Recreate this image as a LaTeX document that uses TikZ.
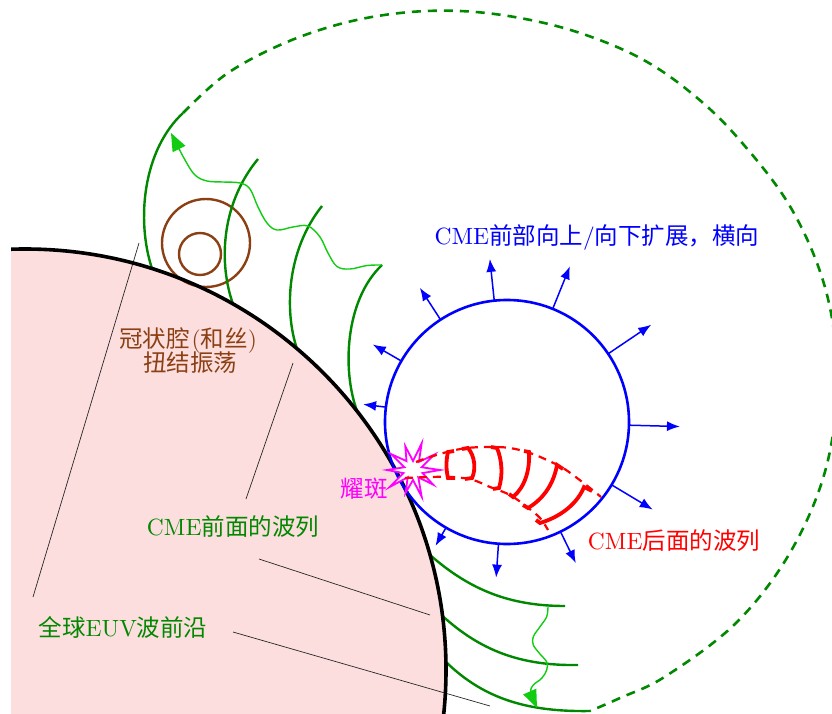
\documentclass[tikz,border=0pt]{standalone}
\usepackage{fontspec}
\setmainfont{lmroman10-regular.otf}
\newfontfamily\cjk{Noto Sans CJK SC}
\usetikzlibrary{arrows.meta,calc}
\definecolor{sunpink}{RGB}{253,222,222}
\definecolor{frontgreen}{RGB}{0,136,0}
\definecolor{ripple}{RGB}{17,204,17}
\definecolor{cavitybrown}{RGB}{139,64,20}
\definecolor{flaremag}{RGB}{255,0,255}
\newcommand{\zh}[1]{{\cjk #1}}
\begin{document}
\begin{tikzpicture}[x=1pt,y=-1pt,
  lbltxt/.style={font=\fontsize{23.5}{27}\selectfont, inner sep=0pt},
  frontarc/.style={draw=frontgreen, line width=2.4pt},
  shockdash/.style={draw=frontgreen, line width=2.6pt, dash pattern=on 9pt off 7pt},
  ripplearrow/.style={draw=ripple, line width=1.4pt, -{Triangle[length=18pt,width=14pt]}},
  cmerim/.style={draw=blue, line width=2.6pt},
  cmeout/.style={draw=blue, line width=1.5pt, -{Latex[length=13pt,width=10pt]}},
  trail/.style={draw=red, line width=2.2pt, dash pattern=on 8pt off 6pt},
  trailmark/.style={draw=red, line width=3.8pt},
  leader/.style={draw=black!85, line width=0.7pt},
  limb/.style={draw=black, line width=3.6pt},
  cavity/.style={draw=cavitybrown, line width=2.4pt},
  flarestar/.style={draw=flaremag, fill=white, line width=1.8pt}
]
\useasboundingbox (0,0) rectangle (832,714);
\coordinate (sun) at (25,670);
\coordinate (cme) at (507,422);
\coordinate (flare) at (413,470);

% solar disk, cut at the left edge
\begin{scope}
  \clip (11,0) rectangle (832,714);
  \fill[sunpink] (sun) circle[radius=421];
\end{scope}

% leader lines of the two wave labels
\coordinate (l1a) at (139,243); \coordinate (l1b) at (33,597);
\coordinate (l2a) at (293,363); \coordinate (l2b) at (246,499);
\coordinate (l3a) at (259,559); \coordinate (l3b) at (430,615);
\coordinate (l4a) at (233,632); \coordinate (l4b) at (490,706);
\draw[leader] (l1a) -- (l1b);
\draw[leader] (l2a) -- (l2b);
\draw[leader] (l3a) -- (l3b);
\draw[leader] (l4a) -- (l4b);

% filament cavity
\draw[cavity] (206,243) circle[radius=44];
\draw[cavity] (200,254) circle[radius=21];

% wave fronts above the limb
\coordinate (f1a) at (152,268.6); \coordinate (f1b) at (183,113);
\coordinate (f2a) at (233,304);   \coordinate (f2b) at (258,159);
\coordinate (f3a) at (297,349);   \coordinate (f3b) at (322,206);
\coordinate (f4a) at (357,411);   \coordinate (f4b) at (382,265);
\draw[frontarc] (f1a) .. controls (136,220) and (143,150) .. (f1b);
\draw[frontarc] (f2a) .. controls (219,265) and (220,205) .. (f2b);
\draw[frontarc] (f3a) .. controls (284,310) and (287,250) .. (f3b);
\draw[frontarc] (f4a) .. controls (342,370) and (345,300) .. (f4b);

% wave fronts below the CME
\coordinate (g1a) at (430,555);   \coordinate (g1b) at (565,606);
\coordinate (g2a) at (442.5,616); \coordinate (g2b) at (578,665);
\coordinate (g3a) at (446,662);   \coordinate (g3b) at (590,711);
\draw[frontarc] (g1a) .. controls (470,590) and (510,606) .. (g1b);
\draw[frontarc] (g2a) .. controls (480,650) and (520,666) .. (g2b);
\draw[frontarc] (g3a) .. controls (485,700) and (530,712) .. (g3b);

% outer shock front
\draw[shockdash] plot[smooth, tension=0.6] coordinates {
  (183,113) (225,75) (280,45) (340,24) (400,13) (460,11) (520,18)
  (580,33) (640,58) (690,92) (737,137) (791,208) (826,291) (837,379)
  (826,468) (791,551) (737,622) (666,676) (620,698) (590,711)};

% limb of the Sun
\begin{scope}
  \clip (11,0) rectangle (832,714);
  \draw[limb] (sun) circle[radius=421];
\end{scope}

% wave ripples travelling along the fronts
\draw[ripplearrow] plot[smooth, tension=0.6] coordinates {
  (382,265) (367,265.5) (350,269) (337,266.5) (328,253) (320,237)
  (308,226) (293,227) (277,230) (267,223) (258,207) (250,189) (240,183)
  (223,182) (207,181) (195,175) (185,160) (171,133)};
\draw[ripplearrow] plot[smooth, tension=0.6] coordinates {
  (548,606) (546.7,616.7) (540,626.7) (533.3,636.7) (533.3,645)
  (540,654) (546.7,662) (546.7,670) (541.7,678.3) (533.3,685)
  (531,692) (537,708)};

% CME bubble and its expansion
\draw[cmerim] (cme) circle[radius=122];
\foreach \a/\l in {-96/42, -68/46, -34/52, 1.5/51, -123/38, -150/33,
                   -173/23, 120/21, 94/34, 64/35, 31/48}
  \draw[cmeout] ($(cme)+(\a:122)$) -- ($(cme)+(\a:{122+\l})$);

% flare
\draw[flarestar] ($(flare)+(0:27)$)
  \foreach \a/\r in {18/10,36/25,54/9,72/28,90/10,108/24,126/9,144/29,
                     162/10,180/26,198/9,216/27,234/11,252/25,270/9,
                     288/28,306/10,324/26,342/9} { -- ($(flare)+(\a:\r)$) }
  -- cycle;

% wave train behind the CME
\draw[trail] plot[smooth, tension=0.6] coordinates {
  (416,462) (427,458) (447,452) (467,448) (490,447) (510,448) (530,453)
  (547,460) (563,468) (577,478) (590,488) (601,497)};
\draw[trail] plot[smooth, tension=0.6] coordinates {
  (405,478) (430,477) (453,477) (473,480) (490,487) (510,495) (527,507)
  (540,518) (548,530)};
\draw[trailmark] (454,451) -- (448,452) .. controls (446,460) and (446,470) .. (448,478) -- (455,478);
\draw[trailmark] (462,449) -- (468,448) .. controls (475,456) and (476,470) .. (472,478) -- (465,479);
\draw[trailmark] (491,447) -- (497,448) .. controls (502,460) and (503,475) .. (499,488) -- (493,489);
\draw[trailmark] (524,451) -- (529,452) .. controls (530,470) and (525,487) .. (513,497) -- (509,494);
\draw[trailmark] (563,469) -- (557,465) .. controls (554,482) and (545,498) .. (528,508) -- (523,505);
\draw[trailmark] (592,491) -- (584,487) .. controls (578,502) and (563,516) .. (540,523) -- (536,520);

% labels
\node[lbltxt, text=cavitybrown] (cav1) at (188,341) {\zh{冠状腔}\kern2pt(\zh{和丝})};
\node[lbltxt, text=cavitybrown] (cav2) at (190,363) {\zh{扭结振荡}};
\node[lbltxt, text=flaremag] (flaretxt) at (364,489) {\zh{耀斑}};
\node[lbltxt, text=frontgreen] (traintxt) at (233,527) {CME\zh{前面的波列}};
\node[lbltxt, text=frontgreen] (euvtxt) at (123,627) {\zh{全球}EUV\zh{波前沿}};
\node[lbltxt, text=blue] (cmetxt) at (597,238) {CME\zh{前部向上}/\zh{向下扩展，横向}};
\node[lbltxt, text=red] (reartxt) at (674,541) {CME\zh{后面的波列}};
\end{tikzpicture}
\end{document}
